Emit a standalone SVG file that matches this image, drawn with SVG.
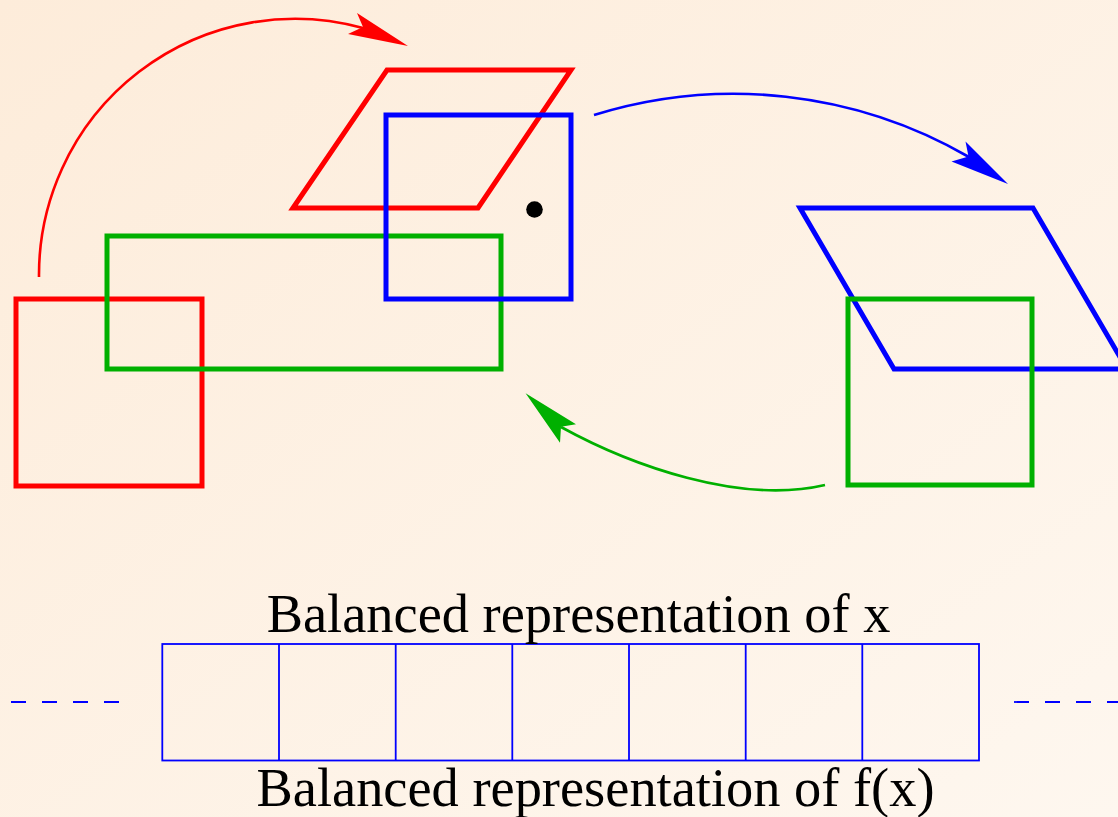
<svg xmlns="http://www.w3.org/2000/svg" width="1118" height="817" viewBox="0 0 1118 817">
<defs>
<linearGradient id="bg" x1="0" y1="0" x2="1" y2="1">
<stop offset="0" stop-color="#fdecda"/>
<stop offset="1" stop-color="#fef7ef"/>
</linearGradient>
<style>
.shape{fill:none;stroke-width:5;stroke-linejoin:miter}
.arc{fill:none;stroke-width:2.6}
.r{stroke:#ff0000}.b{stroke:#0000ff}.g{stroke:#00b000}
.hr{fill:#ff0000}.hb{fill:#0000ff}.hg{fill:#00b000}
.cell{fill:none;stroke:#0000ff;stroke-width:1.8}
.dash{fill:none;stroke:#0000ff;stroke-width:1.8;stroke-dasharray:15 16}
.lbl{font-family:"Liberation Serif","Times New Roman",serif;font-size:54.4px;fill:#000}
</style>
</defs>
<rect width="1118" height="817" fill="url(#bg)"/>
<g id="red-square"><rect class="shape r" x="16" y="299" width="186" height="187"/></g>
<g id="green-rect"><rect class="shape g" x="107" y="236" width="394" height="133"/></g>
<g id="red-parallelogram"><polygon class="shape r" points="293,208 387,70 571,70 478,208"/></g>
<g id="blue-square"><rect class="shape b" x="386" y="115" width="185" height="184"/></g>
<g id="dot"><circle cx="534.5" cy="209.5" r="8.3" fill="#000"/></g>
<g id="blue-parallelogram"><polygon class="shape b" points="800,208 1033,208 1127,369 894,369"/></g>
<g id="green-square"><rect class="shape g" x="848" y="299" width="184" height="186"/></g>
<g id="connectors">
<path class="arc r" d="M39,277 A256,256 0 0 1 363,28"/>
<polygon class="hr" points="408,46 357,13 363,27 348,34"/>
<path class="arc b" d="M594,115 A470,470 0 0 1 969,157"/>
<polygon class="hb" points="1008,184 965.5,141.5 968.5,156.5 951.5,161.5"/>
<path class="arc g" d="M825,485 C740,505 630,465 561,427"/>
<polygon class="hg" points="525.6,393.3 576,424.3 561,426.7 560,442.7"/>
</g>
<g id="cells">
<rect class="cell" x="162.3" y="644" width="816.7" height="116.5"/>
<line class="cell" x1="279" y1="644" x2="279" y2="760.5"/>
<line class="cell" x1="395.7" y1="644" x2="395.7" y2="760.5"/>
<line class="cell" x1="512.3" y1="644" x2="512.3" y2="760.5"/>
<line class="cell" x1="629" y1="644" x2="629" y2="760.5"/>
<line class="cell" x1="745.7" y1="644" x2="745.7" y2="760.5"/>
<line class="cell" x1="862.3" y1="644" x2="862.3" y2="760.5"/>
<line class="dash" x1="11" y1="702" x2="121" y2="702"/>
<line class="dash" x1="1014" y1="702" x2="1118" y2="702"/>
</g>
<g id="labels">
<text class="lbl" x="578.5" y="632" text-anchor="middle">Balanced representation of x</text>
<text class="lbl" x="595.5" y="806" text-anchor="middle">Balanced representation of f(x)</text>
</g>
</svg>
